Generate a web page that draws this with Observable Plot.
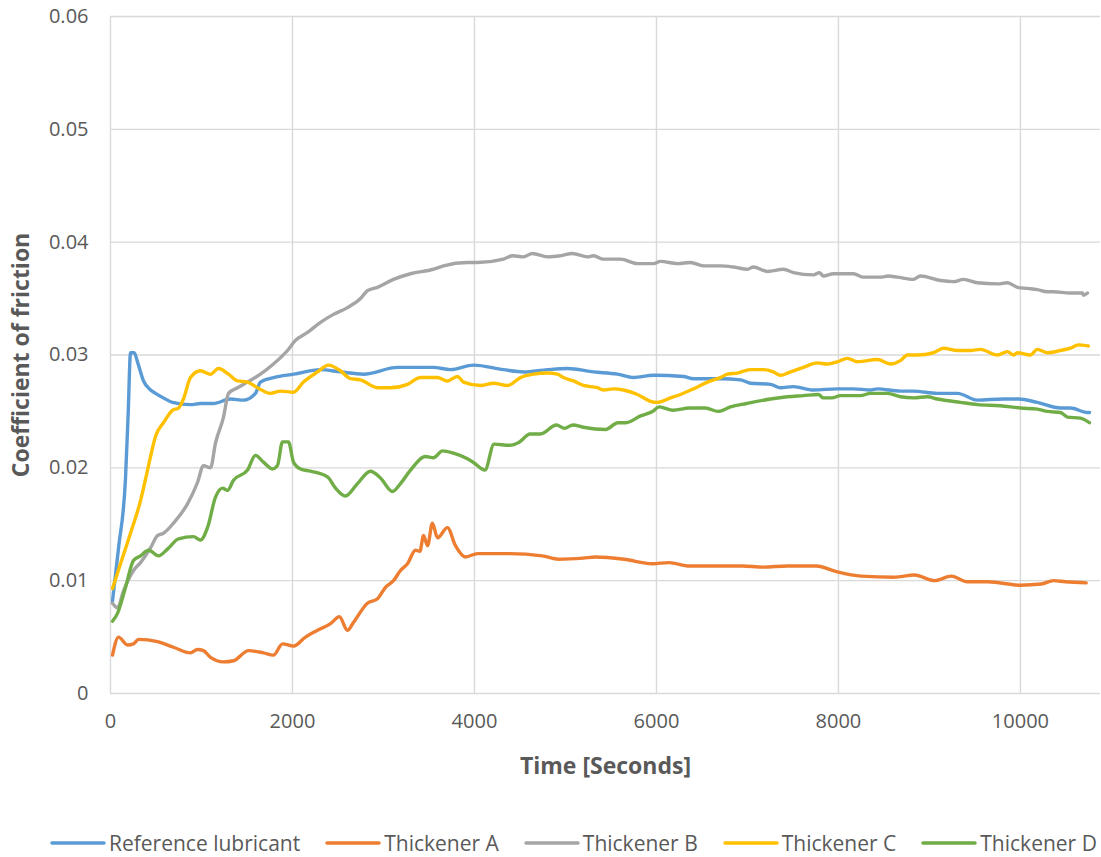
<!DOCTYPE html>
<html>
<head>
<meta charset="utf-8">
<script src="https://cdn.jsdelivr.net/npm/d3@7"></script>
<script src="https://cdn.jsdelivr.net/npm/@observablehq/plot@0.6"></script>
<style>
  html, body { margin: 0; padding: 0; background: #fff; }
  #wrap { position: relative; width: 1101px; height: 857px; font-family: "Open Sans", sans-serif; }
  #chart svg { display: block; }
  g[aria-label="x-axis label"] text, g[aria-label="y-axis label"] text { font-weight: bold; font-size: 23px; }
  #legend { position: absolute; left: 0; top: 829px; width: 1101px; display: flex; justify-content: flex-start; align-items: center; gap: 25px; padding-left: 50px; box-sizing: border-box; font-size: 21px; line-height: 28px; color: #595959; }
  .item { display: flex; align-items: center; gap: 3px; white-space: nowrap; }
  .item svg { display: block; }
</style>
</head>
<body>
<div id="wrap">
  <div id="chart"></div>
  <div id="legend"></div>
</div>
<script>
const seriesNames = ["Reference lubricant", "Thickener A", "Thickener B", "Thickener C", "Thickener D"];
const seriesColors = ["#5B9BD5", "#ED7D31", "#A5A5A5", "#FFC000", "#70AD47"];
const xTicks = [0, 2000, 4000, 6000, 8000, 10000];
const yTicks = [0, 0.01, 0.02, 0.03, 0.04, 0.05, 0.06];

const refT = [22, 90, 165, 195, 220, 260, 300, 363, 440, 495, 580, 681, 879, 989, 1132, 1319, 1462, 1593, 1648, 1795, 2015, 2308, 2527, 2780, 3154, 3549, 3736, 3989, 4319, 4538, 4802, 5022, 5308, 5571, 5747, 5967, 6297, 6407, 6703, 6923, 7033, 7253, 7363, 7505, 7725, 7989, 8165, 8352, 8429, 8681, 8824, 9088, 9308, 9527, 9813, 9978, 10186, 10440, 10549, 10736, 10760];
const refV = [0.0082, 0.0130, 0.0191, 0.0250, 0.0302, 0.0302, 0.0293, 0.0277, 0.0269, 0.0266, 0.0262, 0.0258, 0.0256, 0.0257, 0.0257, 0.0261, 0.0260, 0.0266, 0.0276, 0.0280, 0.0283, 0.0287, 0.0285, 0.0283, 0.0289, 0.0289, 0.0287, 0.0291, 0.0287, 0.0285, 0.0287, 0.0288, 0.0285, 0.0283, 0.0280, 0.0282, 0.0281, 0.0279, 0.0279, 0.0278, 0.0275, 0.0274, 0.0271, 0.0272, 0.0269, 0.0270, 0.0270, 0.0269, 0.0270, 0.0268, 0.0268, 0.0266, 0.0266, 0.0260, 0.0261, 0.0261, 0.0258, 0.0253, 0.0253, 0.0249, 0.0249];

const aT = [22, 88, 187, 253, 308, 516, 692, 879, 956, 1022, 1099, 1242, 1352, 1517, 1681, 1791, 1890, 2011, 2143, 2275, 2418, 2516, 2604, 2670, 2824, 2934, 3022, 3110, 3187, 3264, 3352, 3400, 3440, 3484, 3538, 3593, 3703, 3791, 3901, 4033, 4115, 4385, 4745, 4923, 5195, 5330, 5644, 5956, 6138, 6363, 6678, 6945, 7172, 7440, 7756, 7978, 8250, 8610, 8835, 9059, 9240, 9418, 9644, 10000, 10229, 10363, 10495, 10723];
const aV = [0.0034, 0.0050, 0.0043, 0.0044, 0.0048, 0.0046, 0.0041, 0.0036, 0.0039, 0.0038, 0.0032, 0.0028, 0.0029, 0.0038, 0.0036, 0.0034, 0.0044, 0.0042, 0.0050, 0.0056, 0.0062, 0.0068, 0.0056, 0.0063, 0.0080, 0.0084, 0.0094, 0.0100, 0.0109, 0.0115, 0.0127, 0.0126, 0.0140, 0.0131, 0.0151, 0.0138, 0.0147, 0.0131, 0.0121, 0.0124, 0.0124, 0.0124, 0.0122, 0.0119, 0.0120, 0.0121, 0.0119, 0.0115, 0.0116, 0.0113, 0.0113, 0.0113, 0.0112, 0.0113, 0.0113, 0.0108, 0.0104, 0.0103, 0.0105, 0.0100, 0.0104, 0.0099, 0.0099, 0.0096, 0.0097, 0.0100, 0.0099, 0.0098];

const bT = [22, 77, 143, 253, 330, 440, 516, 582, 692, 846, 956, 1022, 1099, 1154, 1242, 1297, 1396, 1506, 1648, 1791, 1945, 2033, 2165, 2308, 2451, 2604, 2747, 2824, 2934, 3110, 3297, 3549, 3659, 3923, 4033, 4319, 4418, 4538, 4637, 4802, 4945, 5077, 5242, 5308, 5418, 5604, 5791, 5967, 6044, 6231, 6374, 6516, 6703, 6846, 7000, 7066, 7220, 7396, 7505, 7725, 7791, 7835, 7945, 8165, 8275, 8462, 8549, 8648, 8824, 8901, 9121, 9264, 9374, 9527, 9747, 9857, 9967, 10077, 10186, 10297, 10363, 10549, 10681, 10692, 10736];
const bV = [0.0080, 0.0076, 0.0091, 0.0109, 0.0116, 0.0129, 0.0140, 0.0142, 0.0151, 0.0168, 0.0187, 0.0202, 0.0200, 0.0222, 0.0245, 0.0266, 0.0271, 0.0276, 0.0283, 0.0292, 0.0304, 0.0313, 0.0320, 0.0329, 0.0336, 0.0342, 0.0350, 0.0357, 0.0360, 0.0367, 0.0372, 0.0376, 0.0379, 0.0382, 0.0382, 0.0385, 0.0388, 0.0387, 0.0390, 0.0387, 0.0388, 0.0390, 0.0387, 0.0388, 0.0385, 0.0385, 0.0381, 0.0381, 0.0383, 0.0381, 0.0382, 0.0379, 0.0379, 0.0378, 0.0376, 0.0378, 0.0374, 0.0376, 0.0373, 0.0371, 0.0373, 0.0370, 0.0372, 0.0372, 0.0369, 0.0369, 0.0370, 0.0369, 0.0367, 0.0370, 0.0366, 0.0365, 0.0367, 0.0364, 0.0363, 0.0364, 0.0360, 0.0359, 0.0358, 0.0356, 0.0356, 0.0355, 0.0355, 0.0353, 0.0355];

const cT = [22, 110, 220, 330, 385, 440, 495, 582, 681, 747, 802, 879, 989, 1099, 1187, 1297, 1396, 1506, 1615, 1758, 1868, 2011, 2121, 2275, 2396, 2527, 2637, 2747, 2934, 3077, 3264, 3407, 3593, 3703, 3813, 3879, 4066, 4209, 4363, 4505, 4648, 4802, 4912, 4978, 5088, 5198, 5352, 5418, 5527, 5637, 5791, 5934, 6011, 6154, 6264, 6407, 6560, 6703, 6780, 6890, 7033, 7176, 7286, 7363, 7473, 7615, 7769, 7879, 7989, 8099, 8209, 8429, 8571, 8681, 8758, 8868, 9044, 9154, 9308, 9451, 9560, 9747, 9857, 9923, 9967, 10110, 10186, 10297, 10440, 10549, 10637, 10747];
const cV = [0.0093, 0.0115, 0.0142, 0.0171, 0.0190, 0.0210, 0.0228, 0.0240, 0.0251, 0.0253, 0.0261, 0.0280, 0.0286, 0.0283, 0.0288, 0.0283, 0.0277, 0.0276, 0.0271, 0.0266, 0.0268, 0.0267, 0.0276, 0.0285, 0.0291, 0.0286, 0.0279, 0.0278, 0.0271, 0.0271, 0.0274, 0.0280, 0.0280, 0.0277, 0.0281, 0.0276, 0.0273, 0.0275, 0.0273, 0.0280, 0.0283, 0.0284, 0.0283, 0.0280, 0.0277, 0.0273, 0.0271, 0.0269, 0.0270, 0.0269, 0.0265, 0.0259, 0.0258, 0.0262, 0.0265, 0.0270, 0.0276, 0.0280, 0.0283, 0.0284, 0.0287, 0.0287, 0.0285, 0.0282, 0.0285, 0.0289, 0.0293, 0.0292, 0.0294, 0.0297, 0.0294, 0.0296, 0.0292, 0.0295, 0.0300, 0.0300, 0.0302, 0.0306, 0.0304, 0.0304, 0.0305, 0.0300, 0.0303, 0.0300, 0.0302, 0.0300, 0.0305, 0.0302, 0.0304, 0.0306, 0.0309, 0.0308];

const dT = [22, 77, 165, 253, 330, 418, 528, 626, 747, 912, 989, 1066, 1154, 1231, 1286, 1352, 1506, 1593, 1681, 1780, 1835, 1890, 1956, 2011, 2088, 2198, 2385, 2473, 2582, 2714, 2857, 2967, 3099, 3187, 3297, 3462, 3549, 3648, 3769, 3923, 3985, 4115, 4215, 4385, 4495, 4610, 4725, 4901, 4989, 5082, 5195, 5440, 5577, 5666, 5824, 5956, 6030, 6184, 6363, 6538, 6678, 6813, 6989, 7253, 7440, 7615, 7780, 7835, 7930, 8022, 8242, 8352, 8538, 8681, 8824, 8978, 9088, 9341, 9527, 9780, 10000, 10186, 10297, 10440, 10516, 10659, 10758];
const dV = [0.0064, 0.0071, 0.0094, 0.0118, 0.0122, 0.0127, 0.0122, 0.0128, 0.0137, 0.0139, 0.0136, 0.0147, 0.0174, 0.0182, 0.0180, 0.0189, 0.0198, 0.0211, 0.0205, 0.0199, 0.0202, 0.0223, 0.0223, 0.0205, 0.0199, 0.0197, 0.0192, 0.0182, 0.0175, 0.0186, 0.0197, 0.0191, 0.0179, 0.0186, 0.0198, 0.0210, 0.0209, 0.0215, 0.0213, 0.0208, 0.0205, 0.0198, 0.0221, 0.0220, 0.0223, 0.0230, 0.0230, 0.0238, 0.0235, 0.0238, 0.0236, 0.0234, 0.0240, 0.0240, 0.0246, 0.0250, 0.0254, 0.0251, 0.0253, 0.0253, 0.0250, 0.0254, 0.0257, 0.0261, 0.0263, 0.0264, 0.0265, 0.0262, 0.0262, 0.0264, 0.0264, 0.0266, 0.0266, 0.0263, 0.0262, 0.0263, 0.0261, 0.0258, 0.0256, 0.0255, 0.0253, 0.0252, 0.0250, 0.0249, 0.0245, 0.0244, 0.0240];

const seriesT = [refT, aT, bT, cT, dT];
const seriesV = [refV, aV, bV, cV, dV];

const rows = [];
seriesNames.forEach((name, i) => {
  seriesT[i].forEach((t, j) => rows.push({series: name, t, v: seriesV[i][j]}));
});

const yFmt = d => d === 0 ? "0" : d.toFixed(2);

const chart = Plot.plot({
  width: 1101,
  height: 800,
  marginTop: 16,
  marginLeft: 110,
  marginRight: 1,
  marginBottom: 107,
  style: {fontFamily: "'Open Sans', sans-serif", fontSize: "20px", color: "#595959", background: "#fff"},
  x: {domain: [0, 10880], ticks: xTicks, tickFormat: d3.format("d"), label: "Time [Seconds]", labelAnchor: "center", labelArrow: "none"},
  y: {domain: [0, 0.06], ticks: yTicks, tickFormat: yFmt, label: "Coefficient of friction", labelAnchor: "center", labelArrow: "none"},
  color: {domain: seriesNames, range: seriesColors},
  marks: [
    Plot.gridY(yTicks, {stroke: "#d9d9d9", strokeOpacity: 1, strokeWidth: 1.4}),
    Plot.gridX(xTicks, {stroke: "#d9d9d9", strokeOpacity: 1, strokeWidth: 1.4}),
    Plot.axisX({ticks: xTicks, tickSize: 0, tickPadding: 20, fontSize: 20, label: "Time [Seconds]", labelAnchor: "center", labelArrow: "none", labelOffset: 80, tickFormat: d3.format("d")}),
    Plot.axisY({ticks: yTicks, tickSize: 0, tickPadding: 22, fontSize: 20, label: "Coefficient of friction", labelAnchor: "center", labelArrow: "none", labelOffset: 98, tickFormat: yFmt}),
    Plot.line(rows, {x: "t", y: "v", z: "series", stroke: "series", strokeWidth: 3.4, curve: "monotone-x", strokeLinejoin: "round", strokeLinecap: "round"})
  ]
});
document.getElementById("chart").appendChild(chart);

const legend = document.getElementById("legend");
seriesNames.forEach((name, i) => {
  const item = document.createElement("div");
  item.className = "item";
  item.innerHTML = `<svg width="56" height="8"><line x1="2" y1="4" x2="54" y2="4" stroke="${seriesColors[i]}" stroke-width="3.5" stroke-linecap="round"/></svg><span>${name}</span>`;
  legend.appendChild(item);
});
</script>
</body>
</html>
